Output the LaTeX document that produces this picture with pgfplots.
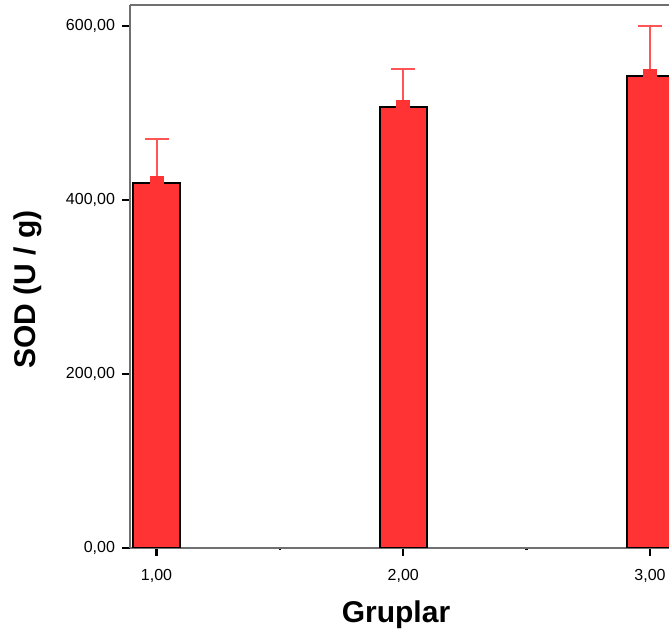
\documentclass[border=0pt]{standalone}
\usepackage{fontspec}
\setmainfont{Liberation Sans}
\usepackage{pgfplots}
\usepackage{pgfplotstable}
\pgfplotsset{compat=1.18}
\usetikzlibrary{calc}

\definecolor{barred}{HTML}{FF3333}
\definecolor{errred}{HTML}{FF5555}
\definecolor{spine}{HTML}{707070}

% group, mean, upper error
\pgfplotstableread{
x y ey
1 419 51
2 507 43
3 542 58
}\sodtable

\begin{document}
\begin{tikzpicture}
\begin{axis}[
  scale only axis,
  width=269.5pt, height=271.5pt,
  xmin=0.8925, xmax=3.077,
  ymin=0, ymax=624,
  axis x line*=bottom, axis y line*=left,
  axis line style={spine, line width=1pt, -},
  xtick={1,2,3}, ytick={0,200,400,600},
  minor xtick={1.5,2.5},
  tick align=outside,
  major tick length=4pt, minor tick length=0.8pt,
  tick style={black, line width=1.2pt},
  /pgf/number format/.cd, fixed, fixed zerofill, precision=2, use comma, 1000 sep={}, assume math mode=true,
  /pgfplots/.cd,
  ticklabel style={font=\fontsize{8}{9}\selectfont},
  xticklabel style={yshift=-3pt},
  xlabel={Gruplar}, ylabel={SOD (U / g)},
  label style={font=\fontsize{15}{17}\selectfont\bfseries},
  xlabel style={at={(axis description cs:0.4935,-0.1234)}, anchor=center},
  ylabel style={at={(axis description cs:-0.189,0.476)}, anchor=center},
]
\addplot[ybar, bar width=0.19, fill=barred, draw=black, line width=1pt]
  table[x=x, y=y] {\sodtable};
\addplot[barred, only marks, mark=square*, mark size=3.25pt,
  mark options={fill=barred, draw=barred, line width=0pt},
  error bars/.cd, y dir=plus, y explicit,
  error bar style={errred, line width=1pt},
  error mark options={errred, line width=1pt, mark size=6pt, rotate=90}]
  table[x=x, y=y, y error=ey] {\sodtable};
\end{axis}
\draw[spine, line width=1pt] (current axis.north west) -- (current axis.north east);
\pgfresetboundingbox
\path[use as bounding box] ($(current axis.south west)+(-65pt,-46pt)$) rectangle ($(current axis.north east)+(0,2.5pt)$);
\end{tikzpicture}
\end{document}
